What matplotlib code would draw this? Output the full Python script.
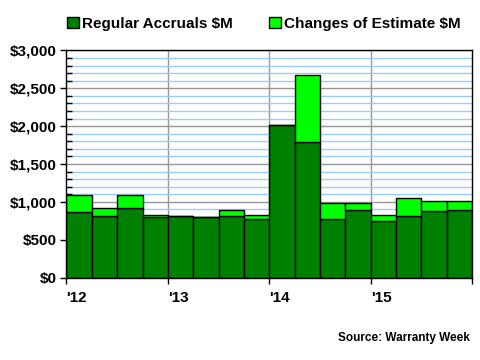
import matplotlib
matplotlib.use("Agg")
import matplotlib.pyplot as plt
from matplotlib.ticker import MultipleLocator, FuncFormatter

# quarterly data, Q1 2012 .. Q4 2015
quarters = ["Q1 12", "Q2 12", "Q3 12", "Q4 12",
            "Q1 13", "Q2 13", "Q3 13", "Q4 13",
            "Q1 14", "Q2 14", "Q3 14", "Q4 14",
            "Q1 15", "Q2 15", "Q3 15", "Q4 15"]
regular = [867, 813, 920, 800, 810, 798, 813, 773,
           2020, 1787, 773, 893, 747, 813, 880, 893]
changes = [226, 107, 173, 27, 0, 0, 80, 54,
           0, 893, 214, 94, 80, 240, 133, 120]
year_labels = ["'12", "'13", "'14", "'15", ""]

plt.rcParams['font.family'] = ['Liberation Sans', 'DejaVu Sans']
plt.rcParams['font.weight'] = 'bold'

fig = plt.figure(figsize=(4.8, 3.6), dpi=100)
ax = fig.add_axes([0.1385, 0.229, 0.845, 0.631])

x = list(range(len(quarters)))
ax.bar(x, regular, width=1, align='edge', color='#008000', edgecolor='black',
       linewidth=1, label='Regular Accruals $M', zorder=3)
ax.bar(x, changes, width=1, align='edge', bottom=regular, color='#00FF00',
       edgecolor='black', linewidth=1, label='Changes of Estimate $M', zorder=3)

ax.set_xlim(0, 16)
ax.set_ylim(0, 3000)

ax.yaxis.set_major_locator(MultipleLocator(500))
ax.yaxis.set_minor_locator(MultipleLocator(100))
ax.yaxis.set_major_formatter(FuncFormatter(lambda v, p: "${:,.0f}".format(v)))
ax.grid(which='minor', axis='y', color='#99CCFF', linewidth=1, zorder=0)
ax.grid(which='major', axis='y', color='#969696', linewidth=1, zorder=1)

ax.set_xticks([0, 4, 8, 12, 16])
ax.set_xticklabels(year_labels, ha='left')
for xv in [4, 8, 12]:
    ax.axvline(xv, color='#969696', linewidth=1, zorder=1)

ax.tick_params(axis='y', which='major', direction='out', length=4, width=1, labelsize=11, pad=3)
ax.tick_params(axis='y', which='minor', direction='in', length=4, width=1)
ax.tick_params(axis='x', which='major', direction='out', length=4, width=1, labelsize=11, pad=6)
for lab in ax.get_xticklabels() + ax.get_yticklabels():
    lab.set_fontweight('bold')

for s in ax.spines.values():
    s.set_color('black')
    s.set_linewidth(1)
    s.set_zorder(5)

fig.legend(loc='center left', bbox_to_anchor=(0.124, 0.933), ncol=2, frameon=False,
           handlelength=0.75, handleheight=0.75, handletextpad=0.2, columnspacing=2.4,
           borderpad=0, prop={'weight': 'bold', 'size': 11})

fig.text(0.979, 0.061, "Source: Warranty Week", ha='right', va='center',
         fontsize=8.5, fontweight='bold')

fig.savefig("out.png", dpi=100)
